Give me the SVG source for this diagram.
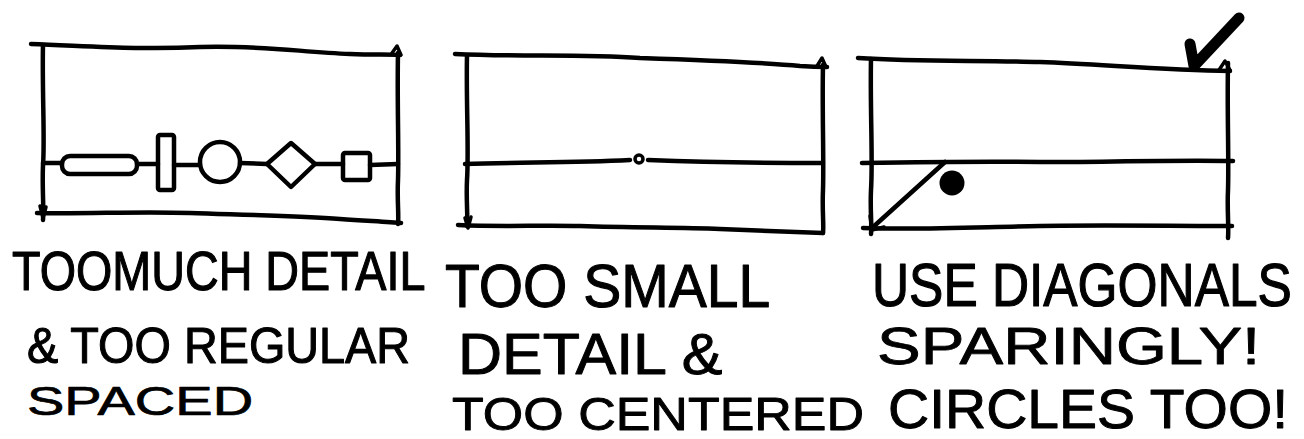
<svg xmlns="http://www.w3.org/2000/svg" width="1304" height="439" viewBox="0 0 1304 439">
<style>
.ln{fill:none;stroke:#000;stroke-width:4.5;stroke-linecap:round;stroke-linejoin:round}
.thin{fill:none;stroke:#000;stroke-width:3.5;stroke-linecap:round;stroke-linejoin:round}
.tx{font-family:"Liberation Sans","Arial",sans-serif;fill:#000;stroke:#000;stroke-width:1;stroke-linejoin:round}
</style>
<rect width="1304" height="439" fill="#fff"/>
<g id="panel1">
<path class="ln" d="M31,44 C90,46 140,50 200,47 C260,45 300,52 350,54 C375,55 390,54 400,55"/>
<path class="ln" d="M43,45 C42,90 45,140 43,165 C42,190 44,205 43,220"/>
<path class="ln" d="M398,53 C397,100 399,150 398,180 C397,200 399,215 398,224"/>
<path class="ln" d="M37,213 C90,214 140,211 190,213 C250,215 300,216 340,219 C370,221 390,222 401,223"/>
<path class="thin" d="M40,206 L43,218 L46,207"/>
<path class="thin" d="M392,53 L397,46 L401,55"/>
<path class="ln" d="M43,163 L62,163"/>
<rect class="ln" x="62" y="156" width="75" height="18" rx="8"/>
<path class="ln" d="M137,164 L158,164"/>
<rect class="ln" x="158" y="135" width="16" height="55" rx="2"/>
<path class="ln" d="M174,165 L200,165"/>
<circle class="ln" cx="220" cy="162" r="20"/>
<path class="ln" d="M240,163 L267,164"/>
<path class="ln" d="M291,143 L315,164 L291,187 L267,164 Z"/>
<path class="ln" d="M315,164 L343,164"/>
<rect class="ln" x="343" y="153" width="27" height="27" rx="2"/>
<path class="ln" d="M370,165 L398,164"/>
</g>
<g id="panel2">
<path class="ln" d="M455,54 C520,57 580,54 640,58 C700,60 760,62 800,66 C815,67 822,67 827,67"/>
<path class="ln" d="M467,56 C466,100 469,150 467,180 C466,200 468,215 467,226"/>
<path class="ln" d="M823,65 C822,110 824,160 823,190 C822,210 824,225 823,233"/>
<path class="ln" d="M465,164 C520,162 570,163 630,160 M648,160 C700,162 760,163 823,163"/>
<circle class="thin" cx="639" cy="159" r="4"/>
<path class="ln" d="M458,225 C500,227 540,225 580,226 C640,228 680,227 720,229 C770,231 800,232 823,233"/>
<path class="thin" d="M465,218 L468,228 L471,217"/>
<path class="thin" d="M817,66 L822,58 L826,67"/>
</g>
<g id="panel3">
<path class="ln" d="M858,58 C920,62 980,60 1040,62 C1100,64 1160,70 1230,71"/>
<path class="ln" d="M871,59 C870,110 873,160 871,190 C870,210 872,225 871,234"/>
<path class="ln" d="M1228,63 C1227,110 1229,160 1228,190 C1227,210 1229,228 1228,238"/>
<path class="ln" d="M862,163 C920,162 980,161 1040,162 C1100,162 1170,160 1233,161"/>
<path class="ln" d="M863,228 C920,230 980,227 1040,226 C1100,225 1170,226 1232,226"/>
<path class="ln" d="M945,162 L872,228"/>
<path class="thin" d="M870,216 L872,230 L884,227"/>
<path class="thin" d="M1219,70 L1225,61 L1230,70"/>
<circle cx="952" cy="183" r="12.5" fill="#000"/>
<path d="M1190,44 L1194,66 L1239,18" fill="none" stroke="#000" stroke-width="11" stroke-linecap="round" stroke-linejoin="round"/>
</g>
<g id="labels">
<text class="tx" font-size="46.7" transform="translate(12,290) scale(1,1.2)">TOOMUCH DETAIL</text>
<text class="tx" font-size="46.8" transform="translate(27,363) scale(1,1.07)">&amp; TOO REGULAR</text>
<text class="tx" font-size="56" transform="translate(27,415) scale(1,0.72)">SPACED</text>
<text class="tx" font-size="57" transform="translate(445,307) scale(1,1.08)">TOO SMALL</text>
<text class="tx" font-size="61" transform="translate(458,374) scale(1,0.95)">DETAIL &amp;</text>
<text class="tx" font-size="52" transform="translate(452,430) scale(1,0.9)">TOO CENTERED</text>
<text class="tx" font-size="51.4" transform="translate(872,306) scale(1,1.2)">USE DIAGONALS</text>
<text class="tx" font-size="65.5" transform="translate(877,364) scale(1,0.8)">SPARINGLY!</text>
<text class="tx" font-size="57" transform="translate(888,428) scale(1,0.98)">CIRCLES TOO!</text>
</g>
</svg>
